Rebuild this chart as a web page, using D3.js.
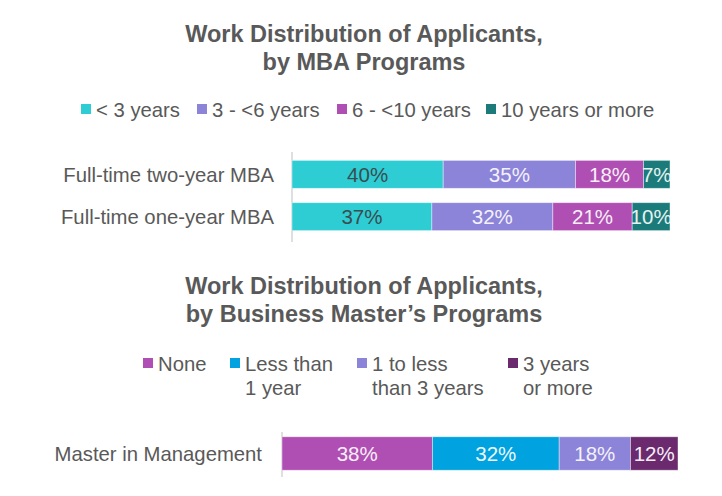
<!DOCTYPE html>
<html>
<head>
<meta charset="utf-8">
<script src="https://cdn.jsdelivr.net/npm/d3@7"></script>
<style>
  html, body { margin: 0; padding: 0; background: #fff; }
  svg { display: block; font-family: "Liberation Sans", Arial, sans-serif; }
</style>
</head>
<body>
<svg id="chart" width="722" height="496"></svg>
<script>
// ---- Data: chart 1 (MBA programs) ----
const mbaTitle = ["Work Distribution of Applicants,", "by MBA Programs"];
const mbaCategories = ["Full-time two-year MBA", "Full-time one-year MBA"];
const mbaSeriesNames = ["< 3 years", "3 - <6 years", "6 - <10 years", "10 years or more"];
const mbaLess3 = [40, 37];
const mba3to6 = [35, 32];
const mba6to10 = [18, 21];
const mba10plus = [7, 10];

// ---- Data: chart 2 (Business Master's) ----
const bmTitle = ["Work Distribution of Applicants,", "by Business Master\u2019s Programs"];
const bmCategories = ["Master in Management"];
const bmSeriesNames = [["None"], ["Less than", "1 year"], ["1 to less", "than 3 years"], ["3 years", "or more"]];
const bmNone = [38];
const bmLess1 = [32];
const bm1to3 = [18];
const bm3plus = [12];

const mbaColors = ["#2ECCD3", "#8C84D8", "#B04FB3", "#1B7B7B"];
const mbaLabelColors = ["#3a4d50", "#f4f1fb", "#f8eef8", "#e6f2f2"];
const bmColors = ["#B04FB3", "#00A2DF", "#8C84D8", "#6B2A6E"];
const bmLabelColors = ["#f8eef8", "#eef8fd", "#f4f1fb", "#f6eef6"];

const textColor = "#595959";
const svg = d3.select("#chart");

function drawTitle(lines, y0) {
  svg.append("g").selectAll("text").data(lines).join("text")
    .attr("x", 364).attr("y", (d, i) => y0 + i * 28)
    .attr("text-anchor", "middle")
    .attr("font-size", 23.5).attr("font-weight", "bold")
    .attr("fill", textColor)
    .text(d => d);
}

function drawBars(cfg) {
  const series = cfg.series;
  const rows = cfg.categories.map((c, i) => {
    let acc = 0;
    return series.map((s, j) => {
      const v = s[i];
      const seg = { cat: c, j, v, x0: acc, x1: acc + v };
      acc += v;
      return seg;
    });
  });
  const x = d3.scaleLinear().domain([0, 100]).range(cfg.xRange);
  const y = d3.scaleBand().domain(cfg.categories).range(cfg.yRange).paddingInner(cfg.padInner).paddingOuter(cfg.padOuter);
  const g = svg.append("g");

  const axis = d3.axisLeft(y).tickSize(0).tickPadding(cfg.tickPad);
  const ag = g.append("g").attr("transform", `translate(${cfg.xRange[0]},0)`).call(axis);
  ag.select(".domain").attr("stroke", "#d4d4d4").attr("stroke-width", 1.5)
    .attr("d", `M0,${cfg.axisY[0]}V${cfg.axisY[1]}`);
  ag.selectAll(".tick text")
    .attr("font-size", 20.3).attr("fill", textColor)
    .attr("font-family", "'Liberation Sans', Arial, sans-serif")
    .attr("dy", "0.36em");

  const clip = "clip" + cfg.id;
  svg.append("defs").append("clipPath").attr("id", clip)
    .append("rect").attr("x", x(0)).attr("y", 0).attr("width", x(100) - x(0)).attr("height", 496);

  const rg = g.selectAll("g.row").data(rows).join("g").attr("class", "row");
  rg.selectAll("rect").data(d => d).join("rect")
    .attr("x", d => x(d.x0)).attr("width", d => x(d.x1) - x(d.x0))
    .attr("y", d => y(d.cat)).attr("height", y.bandwidth())
    .attr("fill", d => cfg.colors[d.j])
    .attr("stroke", "#ffffff").attr("stroke-opacity", 0.5).attr("stroke-width", 0.8);
  rg.selectAll("text").data(d => d).join("text")
    .attr("clip-path", `url(#${clip})`)
    .attr("x", d => (x(d.x0) + x(d.x1)) / 2)
    .attr("y", d => y(d.cat) + y.bandwidth() / 2)
    .attr("dy", "0.36em")
    .attr("text-anchor", "middle")
    .attr("font-size", 20.5).attr("fill", d => cfg.labelColors[d.j])
    .text(d => d.v + "%");
}

function drawLegend(items, colors, positions, baseline, lineH) {
  const lg = svg.append("g");
  items.forEach((lines, i) => {
    const px = positions[i];
    lg.append("rect").attr("x", px).attr("y", baseline - 13).attr("width", 10).attr("height", 10)
      .attr("fill", colors[i]);
    const arr = Array.isArray(lines) ? lines : [lines];
    arr.forEach((t, k) => {
      lg.append("text").attr("x", px + 15)
        .attr("y", baseline + k * lineH)
        .attr("font-size", 20.3).attr("fill", textColor)
        .text(t);
    });
  });
}

// Chart 1
drawTitle(mbaTitle, 42);
drawLegend(mbaSeriesNames, mbaColors, [81, 197, 337, 486], 117, 24);
drawBars({
  id: 1,
  categories: mbaCategories,
  series: [mbaLess3, mba3to6, mba6to10, mba10plus],
  colors: mbaColors, labelColors: mbaLabelColors,
  xRange: [292, 670], yRange: [146, 245], padInner: 0.34, padOuter: 0.34,
  axisY: [152, 242], tickPad: 18
});

// Chart 2
drawTitle(bmTitle, 294);
drawLegend(bmSeriesNames, bmColors, [143, 230, 357, 508], 371, 24);
drawBars({
  id: 2,
  categories: bmCategories,
  series: [bmNone, bmLess1, bm1to3, bm3plus],
  colors: bmColors, labelColors: bmLabelColors,
  xRange: [282, 678], yRange: [428, 479], padInner: 0.2, padOuter: 0.21,
  axisY: [432, 477], tickPad: 20
});
</script>
</body>
</html>
